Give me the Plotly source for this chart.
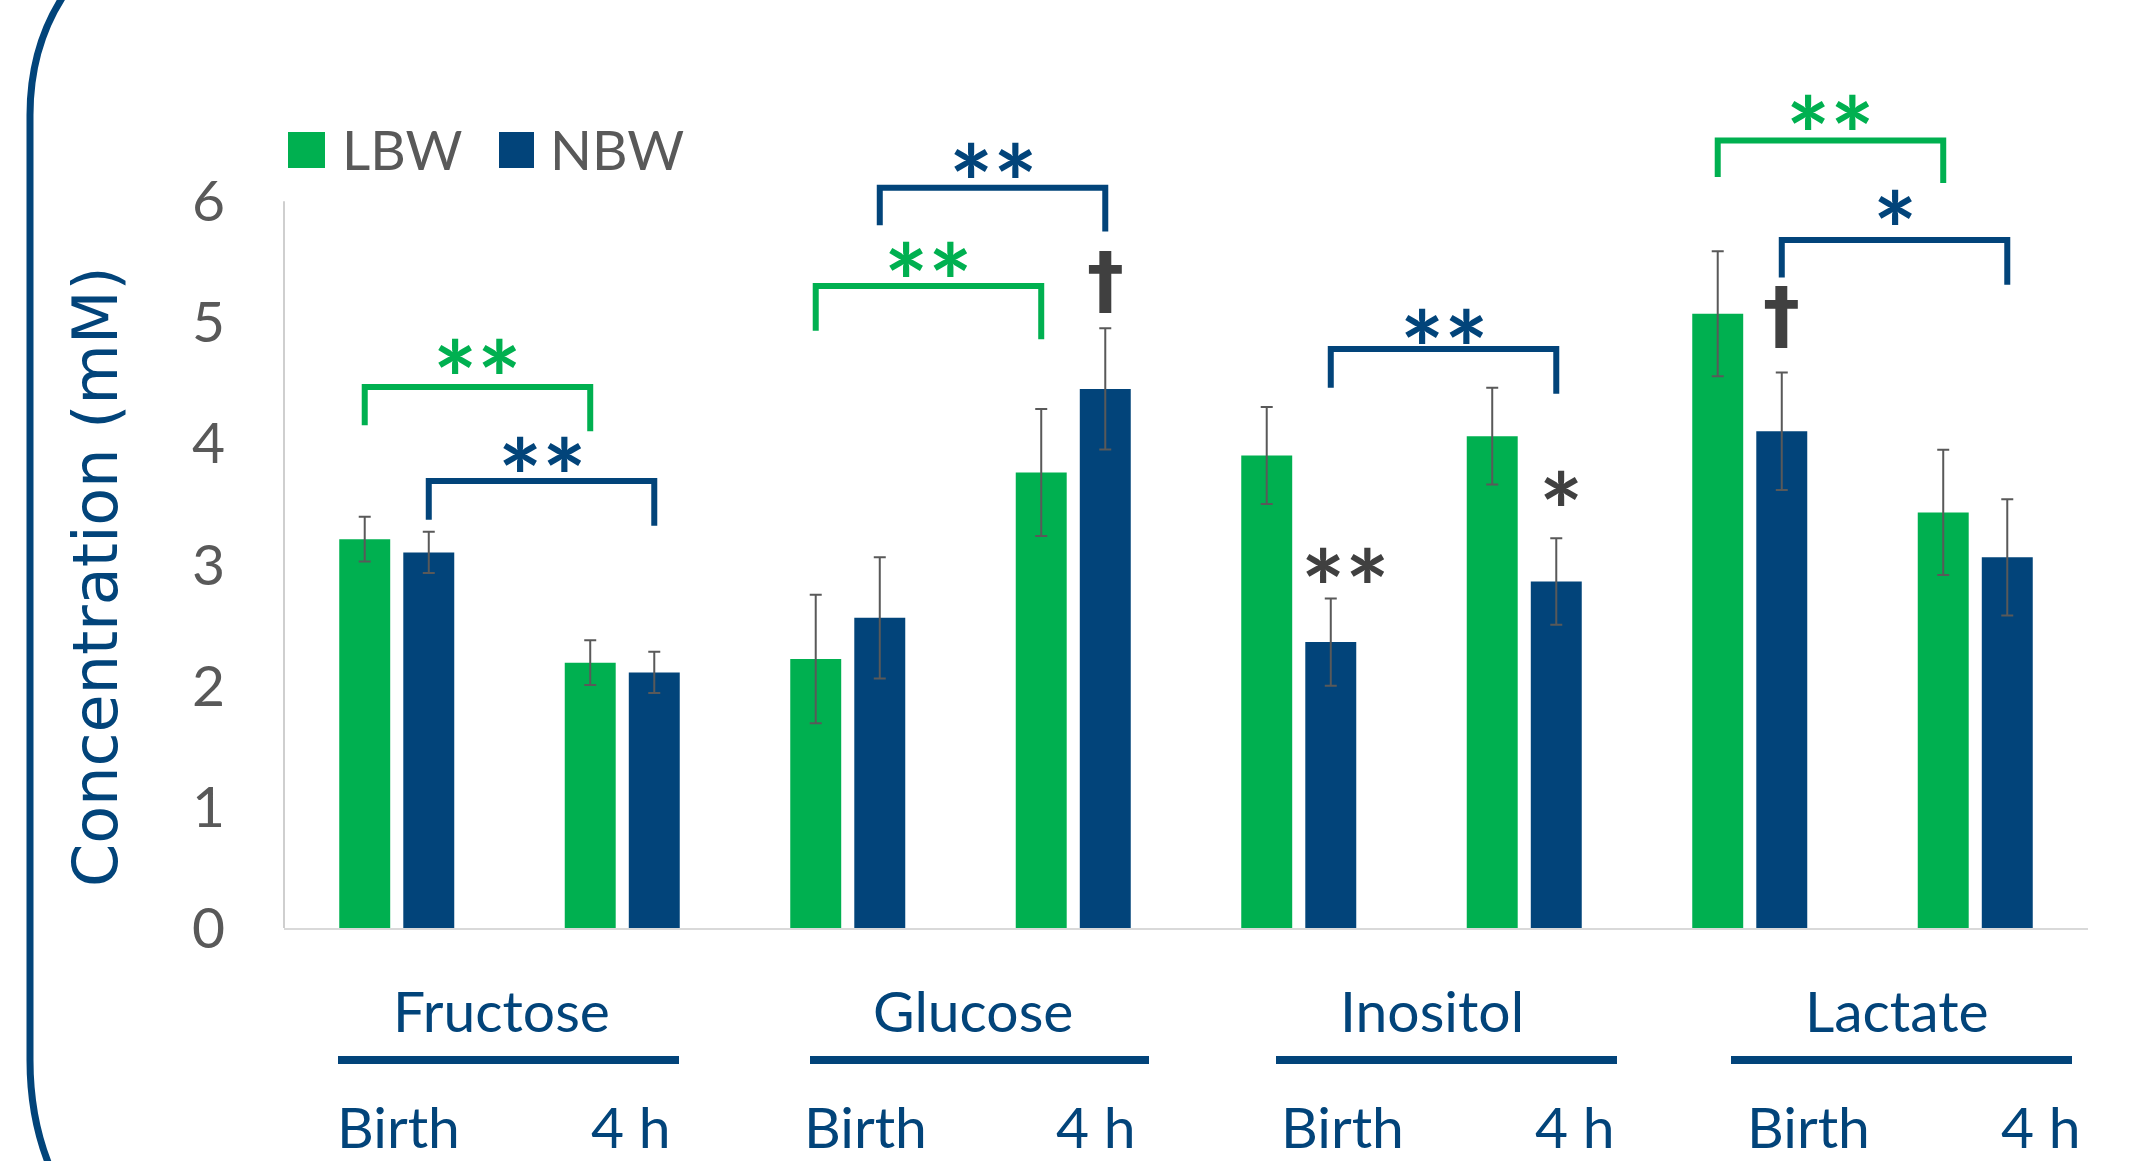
import plotly.graph_objects as go

# ---------------- data ----------------
metabolites = ["Fructose", "Glucose", "Inositol", "Lactate"]
times = ["Birth", "4 h"]
series_names = ["LBW", "NBW"]
lbw_mean = [3.21, 2.19, 2.22, 3.76, 3.90, 4.06, 5.07, 3.43]
lbw_err = [0.185, 0.185, 0.53, 0.525, 0.40, 0.40, 0.516, 0.517]
nbw_mean = [3.10, 2.11, 2.56, 4.45, 2.36, 2.86, 4.10, 3.06]
nbw_err = [0.17, 0.17, 0.50, 0.50, 0.36, 0.357, 0.485, 0.48]
y_ticks = [0, 1, 2, 3, 4, 5, 6]

# significance brackets: (series, from group, to group, label)
brackets = [
    ("LBW", 0, 1, "**"), ("NBW", 0, 1, "**"),
    ("LBW", 2, 3, "**"), ("NBW", 2, 3, "**"),
    ("NBW", 4, 5, "**"),
    ("LBW", 6, 7, "**"), ("NBW", 6, 7, "*"),
]
# bracket geometry (top, left leg end, right leg end, label) in data units
bracket_pos = [
    (4.466, 4.15, 4.10, 4.71), (3.69, 3.37, 3.32, 3.90),
    (5.30, 4.93, 4.86, 5.51), (6.11, 5.80, 5.75, 6.33),
    (4.78, 4.46, 4.41, 4.96),
    (6.50, 6.20, 6.15, 6.72), (5.68, 5.37, 5.31, 5.94),
]
# single-bar marks on NBW bars: (group, label)
bar_marks = [(3, "†"), (6, "†"), (4, "**"), (5, "*")]
bar_marks_pos = [(0.0, 5.35), (0.0, 5.06), (0.065, 2.98), (0.02, 3.62)]

GREEN = "#00B050"
NAVY = "#02447A"
GRAY = "#595959"
DARK = "#404040"
FONT = "Lato"

W, H = 2130, 1161
ML, MR, MT, MB = 284, 42, 80, 233
PW, PH = W - ML - MR, H - MT - MB
YMAX = 7.0

STAR_SIZE = 104
STAR_SHIFT = -19


def xp(px):
    return (px - ML) / PW


def yp(py):
    return (H - MB - py) / PH


BAR_W = 0.226
GAP = 0.058
offs = {"LBW": -GAP / 2 - BAR_W, "NBW": GAP / 2}
centers = {"LBW": -GAP / 2 - BAR_W / 2, "NBW": GAP / 2 + BAR_W / 2}
colors = {"LBW": GREEN, "NBW": NAVY}

x_idx = list(range(len(metabolites) * len(times)))

fig = go.Figure()
for name, mean, err in [("LBW", lbw_mean, lbw_err), ("NBW", nbw_mean, nbw_err)]:
    fig.add_trace(go.Bar(
        x=x_idx, y=mean, name=name,
        width=BAR_W, offset=offs[name],
        marker=dict(color=colors[name], line=dict(width=0)),
        error_y=dict(type="data", array=err, visible=True, color=GRAY,
                     thickness=2, width=6),
        showlegend=False,
    ))

shapes = []
annotations = []

# brackets
for (ser, g0, g1, lab), (ytop, yl, yr, ylab) in zip(brackets, bracket_pos):
    x0 = g0 + centers[ser]
    x1 = g1 + centers[ser]
    shapes.append(dict(
        type="path", xref="x", yref="y",
        path=f"M {x0},{yl} L {x0},{ytop} L {x1},{ytop} L {x1},{yr}",
        line=dict(color=colors[ser], width=6), layer="above",
    ))
    annotations.append(dict(
        x=(x0 + x1) / 2, y=ylab, xref="x", yref="y", text=lab,
        showarrow=False, yanchor="middle", yshift=STAR_SHIFT,
        font=dict(family=FONT, size=STAR_SIZE, color=colors[ser], weight="bold"),
    ))

for (g, lab), (dx, yy) in zip(bar_marks, bar_marks_pos):
    is_dagger = lab == "†"
    annotations.append(dict(
        x=g + centers["NBW"] + dx, y=yy, xref="x", yref="y", text=lab,
        showarrow=False, yanchor="middle",
        yshift=0 if is_dagger else STAR_SHIFT,
        font=dict(family="DejaVu Sans" if is_dagger else FONT,
                  size=74 if is_dagger else STAR_SIZE, color=DARK,
                  weight="bold"),
    ))

# y axis line (0..6 only)
shapes.append(dict(type="line", xref="paper", yref="paper",
                   x0=0, x1=0, y0=0, y1=y_ticks[-1] / YMAX,
                   line=dict(color="#BFBFBF", width=1.5)))

# category labels, underlines and time labels
cat_cx = [501, 973, 1432, 1897]
line_x = [(338, 679), (810, 1149), (1276, 1617), (1731, 2072)]
time_cx = [398, 630, 865, 1095, 1342, 1574, 1808, 2040]
for i, m in enumerate(metabolites):
    annotations.append(dict(
        x=xp(cat_cx[i]), y=yp(1010), xref="paper", yref="paper", text=m,
        showarrow=False, xanchor="center", yanchor="middle",
        font=dict(family=FONT, size=57, color=NAVY)))
    shapes.append(dict(type="line", xref="paper", yref="paper",
                       x0=xp(line_x[i][0]), x1=xp(line_x[i][1]),
                       y0=yp(1060), y1=yp(1060),
                       line=dict(color=NAVY, width=8)))
    for j, t in enumerate(times):
        annotations.append(dict(
            x=xp(time_cx[i * 2 + j]), y=yp(1126), xref="paper", yref="paper",
            text=t, showarrow=False, xanchor="center", yanchor="middle",
            font=dict(family=FONT, size=57, color=NAVY)))

# legend
leg_sq = [(288, 325), (499, 534)]
leg_tx = [340, 548]
for k, name in enumerate(series_names):
    shapes.append(dict(type="rect", xref="paper", yref="paper",
                       x0=xp(leg_sq[k][0]), x1=xp(leg_sq[k][1]),
                       y0=yp(168), y1=yp(132),
                       fillcolor=colors[name], line=dict(width=0)))
    annotations.append(dict(
        x=xp(leg_tx[k]), y=yp(149), xref="paper", yref="paper", text=name,
        showarrow=False, xanchor="left", yanchor="middle",
        font=dict(family=FONT, size=55, color=GRAY)))

# y title
annotations.append(dict(
    x=xp(95), y=yp(577), xref="paper", yref="paper",
    text="Concentration (mM)", textangle=-90, showarrow=False,
    xanchor="center", yanchor="middle",
    font=dict(family="DejaVu Sans", size=62, color=NAVY)))

# rounded frame on the left
frame = (f"M {xp(66)},{yp(-8)} C {xp(40)},{yp(30)} {xp(30)},{yp(70)} {xp(30)},{yp(115)} "
         f"L {xp(30)},{yp(1060)} C {xp(30)},{yp(1100)} {xp(38)},{yp(1140)} {xp(52)},{yp(1172)}")
shapes.append(dict(type="path", xref="paper", yref="paper", path=frame,
                   line=dict(color=NAVY, width=7)))

fig.update_layout(
    width=W, height=H,
    margin=dict(l=ML, r=MR, t=MT, b=MB, pad=0),
    plot_bgcolor="white", paper_bgcolor="white",
    barmode="overlay",
    shapes=shapes, annotations=annotations,
    xaxis=dict(range=[-0.5, 7.5], showticklabels=False, showgrid=False,
               zeroline=False, showline=True, linecolor="#D9D9D9",
               linewidth=2, ticks=""),
    yaxis=dict(range=[0, YMAX], tickvals=y_ticks, showgrid=False,
               zeroline=False, showline=False, ticks="",
               ticklabelstandoff=58,
               tickfont=dict(family=FONT, size=57, color=GRAY)),
)

fig.write_html("out.html", config={"displayModeBar": False},
               post_script="document.body.style.margin='0';document.body.style.overflow='hidden';")
